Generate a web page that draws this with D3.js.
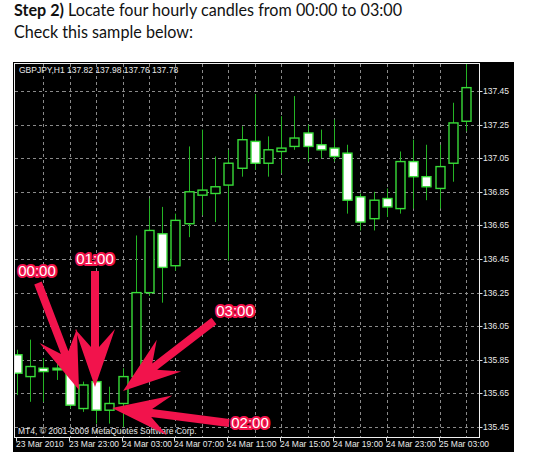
<!DOCTYPE html>
<meta charset="utf-8">
<style>
body { margin: 0; background: #fff; }
svg { display: block; }
.grid line { stroke: #8a8a8a; stroke-dasharray: 3,3; shape-rendering: crispEdges; }
.lbl { font-family: "Liberation Sans", Arial, sans-serif; font-size: 8.5px; fill: #e8e8e8; }
.tag { font-family: "Liberation Sans", Arial, sans-serif; font-size: 15px; fill: #fff;
       stroke: #f2134c; stroke-width: 4px; stroke-linejoin: round; paint-order: stroke; }
</style>
<svg width="552" height="461"></svg>
<script src="https://d3js.org/d3.v7.min.js"></script>
<script>

// hourly bars, GBPJPY H1
var times = ["23 Mar 19:00","23 Mar 20:00","23 Mar 21:00","23 Mar 22:00","23 Mar 23:00",
  "24 Mar 00:00","24 Mar 01:00","24 Mar 02:00","24 Mar 03:00","24 Mar 04:00","24 Mar 05:00",
  "24 Mar 06:00","24 Mar 07:00","24 Mar 08:00","24 Mar 09:00","24 Mar 10:00","24 Mar 11:00",
  "24 Mar 12:00","24 Mar 13:00","24 Mar 14:00","24 Mar 15:00","24 Mar 16:00","24 Mar 17:00",
  "24 Mar 18:00","24 Mar 19:00","24 Mar 20:00","24 Mar 21:00","24 Mar 22:00","24 Mar 23:00",
  "25 Mar 00:00","25 Mar 01:00","25 Mar 02:00","25 Mar 03:00","25 Mar 04:00","25 Mar 05:00"];
var open  = [135.88,135.75,135.80,135.80,135.77,135.56,135.72,135.55,135.59,135.75,136.25,136.60,136.41,136.66,136.83,136.84,136.89,136.99,137.15,137.02,137.09,137.12,137.20,137.13,137.11,137.08,136.82,136.69,136.81,136.75,137.03,136.94,136.87,137.02,137.27];
var high  = [135.91,135.97,135.86,135.87,135.80,135.72,135.73,135.69,135.80,136.59,136.81,136.76,136.72,137.12,137.22,137.06,137.10,137.24,137.43,137.18,137.30,137.42,137.25,137.22,137.28,137.13,136.84,136.85,136.87,137.09,137.16,137.13,137.13,137.38,137.70];
var low   = [135.64,135.60,135.60,135.73,135.56,135.54,135.47,135.47,135.45,135.73,136.23,136.19,136.38,136.58,136.71,136.67,136.44,136.94,136.98,136.94,136.96,137.10,137.03,137.05,137.03,136.72,136.62,136.62,136.70,136.72,136.75,136.80,136.75,136.91,137.21];
var close = [135.77,135.81,135.78,135.79,135.58,135.70,135.55,135.59,135.75,136.25,136.62,136.40,136.68,136.85,136.86,136.88,137.02,137.16,137.02,137.10,137.11,137.17,137.12,137.10,137.06,136.80,136.67,136.80,136.76,137.03,136.94,136.88,137.00,137.26,137.47];

var priceTicks = [135.45,135.65,135.85,136.05,136.25,136.45,136.65,136.85,137.05,137.25,137.45];
var timeTickAt = ["23 Mar 19:00","23 Mar 23:00","24 Mar 03:00","24 Mar 07:00","24 Mar 11:00",
  "24 Mar 15:00","24 Mar 19:00","24 Mar 23:00","25 Mar 03:00"];
var timeTickText = ["23 Mar 2010","23 Mar 23:00","24 Mar 03:00","24 Mar 07:00","24 Mar 11:00",
  "24 Mar 15:00","24 Mar 19:00","24 Mar 23:00","25 Mar 03:00"];

// the four marked candles and where their callouts sit
var marks = [
  {label: "00:00", hour: "24 Mar 00:00", lx: 37, ly: 276, tail: [38, 283], tip: [79, 390]},
  {label: "01:00", hour: "24 Mar 01:00", lx: 95, ly: 264, tail: [95, 271], tip: [95, 387]},
  {label: "02:00", hour: "24 Mar 02:00", lx: 250, ly: 428, tail: [229, 423], tip: [112, 408]},
  {label: "03:00", hour: "24 Mar 03:00", lx: 235, ly: 316, tail: [214, 321], tip: [123, 391]}
];

var svg = d3.select("svg");

// page heading
var head = svg.append("text")
    .attr("x", 14).attr("y", 16)
    .attr("textLength", 388).attr("lengthAdjust", "spacingAndGlyphs")
    .style("font-family", "Lato, 'Open Sans', sans-serif")
    .style("font-size", "17.5px").style("fill", "#111");
head.append("tspan").style("font-weight", "bold").text("Step 2)");
head.append("tspan").text(" Locate four hourly candles from 00:00 to 03:00");
svg.append("text")
    .attr("x", 14).attr("y", 38)
    .attr("textLength", 179).attr("lengthAdjust", "spacingAndGlyphs")
    .style("font-family", "Lato, 'Open Sans', sans-serif")
    .style("font-size", "17.5px").style("fill", "#111")
    .text("Check this sample below:");

// terminal window
var pLeft = 14.5, pRight = 479.5, pTop = 63.5, pBottom = 437.5;
svg.append("rect")
    .attr("x", 13).attr("y", 62).attr("width", 501).attr("height", 390)
    .attr("fill", "#000");

var x = d3.scalePoint().domain(times).range([17, 466]);
var y = d3.scaleLinear().domain([135.45, 137.45]).range([427, 91]);

svg.append("clipPath").attr("id", "plot")
  .append("rect").attr("x", pLeft).attr("y", pTop)
    .attr("width", pRight - pLeft).attr("height", pBottom - pTop);

var grid = svg.append("g").attr("class", "grid");
grid.selectAll(".h")
    .data(priceTicks)
  .enter().append("line")
    .attr("x1", pLeft).attr("x2", pRight)
    .attr("y1", function(d) { return Math.round(y(d)) + 0.5; })
    .attr("y2", function(d) { return Math.round(y(d)) + 0.5; });
grid.selectAll(".v")
    .data(times.filter(function(d, i) { return i > 0 && i % 2 == 0; }))
  .enter().append("line")
    .attr("y1", pTop).attr("y2", pBottom)
    .attr("x1", function(d) { return Math.round(x(d)) + 0.5; })
    .attr("x2", function(d) { return Math.round(x(d)) + 0.5; });

var bars = times.map(function(t, i) {
  return {t: t, o: open[i], h: high[i], l: low[i], c: close[i]};
});

var candles = svg.append("g").attr("clip-path", "url(#plot)")
  .selectAll("g")
    .data(bars)
  .enter().append("g");

candles.append("line")
    .attr("x1", function(d) { return Math.round(x(d.t)) + 0.5; })
    .attr("x2", function(d) { return Math.round(x(d.t)) + 0.5; })
    .attr("y1", function(d) { return y(d.h); })
    .attr("y2", function(d) { return y(d.l); })
    .attr("stroke", "#24b424").attr("stroke-width", 1);

candles.append("rect")
    .attr("x", function(d) { return Math.round(x(d.t)) - 4; })
    .attr("width", 9)
    .attr("y", function(d) { return y(Math.max(d.o, d.c)); })
    .attr("height", function(d) { return Math.max(1, Math.abs(y(d.o) - y(d.c))); })
    .attr("fill", function(d) { return d.c >= d.o ? "#000" : "#fff"; })
    .attr("stroke", "#38dc38").attr("stroke-width", 1.4);

// plot frame
svg.append("rect")
    .attr("x", pLeft).attr("y", pTop)
    .attr("width", pRight - pLeft).attr("height", pBottom - pTop)
    .attr("fill", "none").attr("stroke", "#f0f0f0").attr("stroke-width", 1);

// price scale
var py = svg.append("g");
py.selectAll("line").data(priceTicks).enter().append("line")
    .attr("x1", pRight).attr("x2", pRight + 3)
    .attr("y1", function(d) { return Math.round(y(d)) + 0.5; })
    .attr("y2", function(d) { return Math.round(y(d)) + 0.5; })
    .attr("stroke", "#ddd");
py.selectAll("text").data(priceTicks).enter().append("text")
    .attr("class", "lbl")
    .attr("x", 483)
    .attr("y", function(d) { return y(d) + 3; })
    .text(function(d) { return d3.format(".2f")(d); });

// time scale
var tx = svg.append("g");
tx.selectAll("line").data(timeTickAt).enter().append("line")
    .attr("x1", function(d) { return Math.round(x(d)) - 0.5; })
    .attr("x2", function(d) { return Math.round(x(d)) - 0.5; })
    .attr("y1", pBottom).attr("y2", pBottom + 4)
    .attr("stroke", "#ddd");
tx.selectAll("text").data(timeTickAt).enter().append("text")
    .attr("class", "lbl")
    .attr("x", function(d) { return Math.round(x(d)) - 1; })
    .attr("y", 447)
    .text(function(d, i) { return timeTickText[i]; });

svg.append("text").attr("class", "lbl")
    .attr("x", 19).attr("y", 73)
    .text("GBPJPY,H1  137.82 137.98 137.76 137.78");
svg.append("text").attr("class", "lbl")
    .attr("x", 18).attr("y", 434)
    .text("MT4, \u00a9 2001-2009 MetaQuotes Software Corp.");

// callout arrows
function arrowPath(a, b) {
  var dx = b[0] - a[0], dy = b[1] - a[1],
      len = Math.sqrt(dx * dx + dy * dy),
      ux = dx / len, uy = dy / len, nx = -uy, ny = ux,
      s = 4, hw = 20, hl = 58, notch = 18;
  var bx = b[0] - ux * hl, by = b[1] - uy * hl,
      mx = bx + ux * notch, my = by + uy * notch;
  var pts = [
    [a[0] + nx * s, a[1] + ny * s],
    [mx + nx * s, my + ny * s],
    [bx + nx * hw, by + ny * hw],
    b,
    [bx - nx * hw, by - ny * hw],
    [mx - nx * s, my - ny * s],
    [a[0] - nx * s, a[1] - ny * s]
  ];
  return d3.line()(pts) + "Z";
}

svg.append("g").selectAll("path")
    .data(marks)
  .enter().append("path")
    .attr("d", function(d) { return arrowPath(d.tail, d.tip); })
    .attr("fill", "#f2134c");

svg.append("g").selectAll("text")
    .data(marks)
  .enter().append("text")
    .attr("class", "tag")
    .attr("x", function(d) { return d.lx; })
    .attr("y", function(d) { return d.ly; })
    .attr("text-anchor", "middle")
    .text(function(d) { return d.label; });

</script>
